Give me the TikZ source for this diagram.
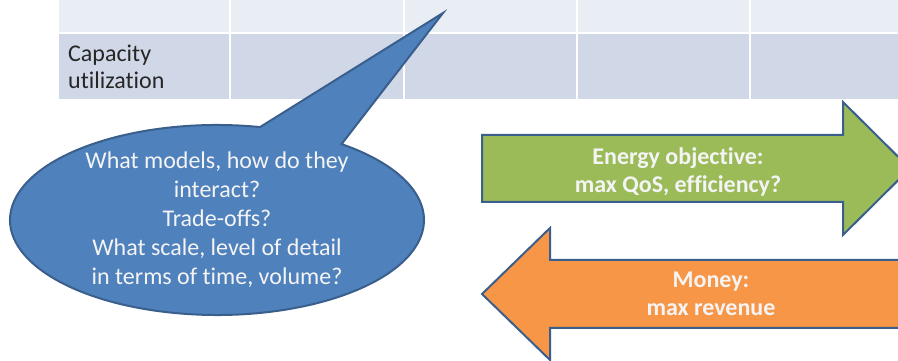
\documentclass[tikz,border=0pt]{standalone}
\usepackage{fontspec}
\setmainfont{Carlito}[Ligatures={NoCommon}]
\usetikzlibrary{shapes,calc}
\definecolor{cellLight}{HTML}{E9EDF4}
\definecolor{cellDark}{HTML}{D0D8E8}
\definecolor{bubbleBlue}{HTML}{4F81BD}
\definecolor{edgeBlue}{HTML}{3A5F8C}
\definecolor{energyGreen}{HTML}{9BBB59}
\definecolor{moneyOrange}{HTML}{F79646}
\definecolor{softWhite}{HTML}{F4F4F4}
\tikzset{x=1pt,y=1pt}
\tikzstyle{rowTop}=[fill=cellLight,draw=white,line width=1.5pt]
\tikzstyle{rowBottom}=[fill=cellDark,draw=white,line width=1.5pt]
\tikzstyle{shapeEdge}=[draw=edgeBlue,line width=2pt,line join=miter]
\tikzstyle{rowLabel}=[anchor=west,inner sep=0pt,align=left,text=black!85,font=\fontsize{24}{27}\selectfont]
\tikzstyle{bubbleText}=[inner sep=0pt,align=center,text=softWhite,font=\fontsize{24}{29}\selectfont]
\tikzstyle{arrowText}=[inner sep=0pt,align=center,text=softWhite,font=\fontsize{24}{28}\selectfont\bfseries]

\begin{document}
\begin{tikzpicture}
		\useasboundingbox (0,0) rectangle (898,361);
		\clip (0,0) rectangle (898,361);
		\foreach \xa/\xb in {58/230,230/404,404/577,577/750,750/920} {
			\draw[rowTop] (\xa,328) rectangle (\xb,375);
			\draw[rowBottom] (\xa,261) rectangle (\xb,328);
		}
		\node at (68,294.5) [rowLabel] (capacity) {Capacity\\utilization};
		\coordinate (bubbleC) at (217,141);
		\coordinate (bubbleTip) at (443,348);
		\filldraw[shapeEdge,fill=bubbleBlue] ($(bubbleC)+(53:207 and 95)$) -- (bubbleTip)
			-- ($(bubbleC)+(78:207 and 95)$) arc[start angle=78,end angle=413,x radius=207,y radius=95] -- cycle;
		\node at (bubbleC) [bubbleText] (questions) {What models, how do they\\interact?\\Trade-offs?\\What scale, level of detail\\in terms of time, volume?};
		\filldraw[shapeEdge,fill=energyGreen] (482,159) -- (843,159) -- (843,126) -- (910,192.5)
			-- (843,259) -- (843,226) -- (482,226) -- cycle;
		\filldraw[shapeEdge,fill=moneyOrange] (920,101) -- (550,101) -- (550,133) -- (482,67)
			-- (550,1) -- (550,33) -- (920,33) -- cycle;
		\node at (678,189.5) [arrowText] (energy) {Energy objective:\\max QoS, efficiency?};
		\node at (711,67) [arrowText] (money) {Money:\\max revenue};
\end{tikzpicture}
\end{document}
